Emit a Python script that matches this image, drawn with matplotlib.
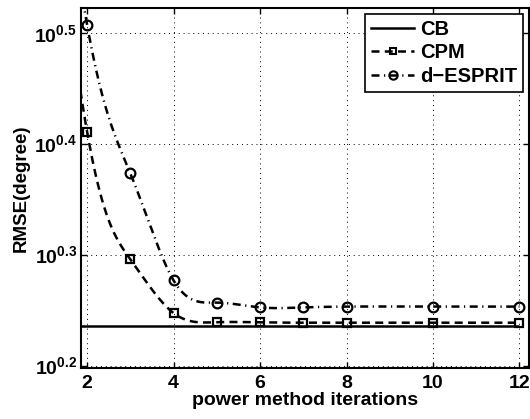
import numpy as np
import matplotlib
matplotlib.use("Agg")
from matplotlib import pyplot as plt
from matplotlib.lines import Line2D
from matplotlib.ticker import FixedLocator, NullLocator

plt.rcParams["font.family"] = "Liberation Sans"
plt.rcParams["font.weight"] = "bold"
plt.rcParams["mathtext.fontset"] = "custom"
plt.rcParams["mathtext.rm"] = "Liberation Sans:bold"
plt.rcParams["mathtext.bf"] = "Liberation Sans:bold"

# data (x = 1 values lie above the visible range)
iters = [1, 2, 3, 4, 5, 6, 7, 8, 10, 12]
cb_x = [1, 12]
cb_rmse = [1.722, 1.722]
cpm_rmse = [4.6, 2.576, 1.977, 1.768, 1.735, 1.734, 1.733, 1.733, 1.733, 1.733]
desprit_rmse = [5.6, 3.218, 2.364, 1.892, 1.807, 1.789, 1.789, 1.792, 1.792, 1.792]

xticks = [2, 4, 6, 8, 10, 12]
yexps = [0.2, 0.3, 0.4, 0.5]


def natural_spline(x, y, xs):
    x = np.asarray(x, float)
    y = np.asarray(y, float)
    n = len(x)
    h = np.diff(x)
    A = np.zeros((n, n))
    b = np.zeros(n)
    A[0, 0] = A[-1, -1] = 1
    for i in range(1, n - 1):
        A[i, i - 1] = h[i - 1]
        A[i, i] = 2 * (h[i - 1] + h[i])
        A[i, i + 1] = h[i]
        b[i] = 3 * ((y[i + 1] - y[i]) / h[i] - (y[i] - y[i - 1]) / h[i - 1])
    c = np.linalg.solve(A, b)
    idx = np.clip(np.searchsorted(x, xs) - 1, 0, n - 2)
    t = xs - x[idx]
    bb = (y[idx + 1] - y[idx]) / h[idx] - h[idx] * (2 * c[idx] + c[idx + 1]) / 3
    d = (c[idx + 1] - c[idx]) / (3 * h[idx])
    return y[idx] + bb * t + c[idx] * t ** 2 + d * t ** 3


fig = plt.figure(figsize=(5.3, 4.19), dpi=100)
ax = fig.add_axes([0.153, 0.122, 0.845, 0.859])

xs = np.linspace(iters[0], iters[-1], 600)
lw = 1.8
dash = (0, (3.2, 2.1))
dashdot = (0, (3.2, 1.8, 0.5, 1.8))

ax.plot(cb_x, cb_rmse, color="black", lw=lw, solid_capstyle="butt")
ax.plot(xs, natural_spline(iters, cpm_rmse, xs), color="black", lw=lw, ls=dash)
ax.plot(iters[1:], cpm_rmse[1:], ls="none", marker="s", ms=6, mfc="none", mec="black", mew=1.6)
ax.plot(xs, natural_spline(iters, desprit_rmse, xs), color="black", lw=lw, ls=dashdot)
ax.plot(iters[1:], desprit_rmse[1:], ls="none", marker="o", ms=7, mfc="none", mec="black", mew=1.6)

ax.set_yscale("log")
ax.set_xlim(1.86, 12.22)
ax.set_ylim(10 ** 0.198, 10 ** 0.523)
ax.xaxis.set_major_locator(FixedLocator(xticks))
ax.yaxis.set_major_locator(FixedLocator([10 ** e for e in yexps]))
ax.yaxis.set_minor_locator(NullLocator())
ax.set_yticklabels([r"$10^{%.1f}$" % e for e in yexps])
ax.tick_params(axis="x", labelsize=14, pad=5)
ax.tick_params(axis="y", labelsize=14, pad=3)
ax.tick_params(direction="in", length=4, width=1, top=True, right=True)
ax.grid(True, ls=(0, (1, 4)), color="black", lw=0.7)
for s in ax.spines.values():
    s.set_linewidth(1.5)

ax.set_xlabel("power method iterations", fontsize=14, fontweight="bold", labelpad=0)
ax.set_ylabel("RMSE(degree)", fontsize=13.5, fontweight="bold", labelpad=3)

handles = [
    Line2D([], [], color="black", lw=lw),
    Line2D([], [], color="black", lw=lw, ls=dash, marker="s", ms=4, mfc="none", mew=1.5),
    Line2D([], [], color="black", lw=lw, ls=dashdot, marker="o", ms=6, mfc="none", mew=1.5),
]
leg = ax.legend(handles, ["CB", "CPM", "d\u2212ESPRIT"], loc="upper right", fontsize=14.5,
                handlelength=2.1, frameon=True, fancybox=False, edgecolor="black",
                borderaxespad=0.3, borderpad=0.3, labelspacing=0.22, handletextpad=0.3)
leg.get_frame().set_linewidth(1.2)
leg.get_frame().set_alpha(1)

fig.savefig("out.png", dpi=100)
